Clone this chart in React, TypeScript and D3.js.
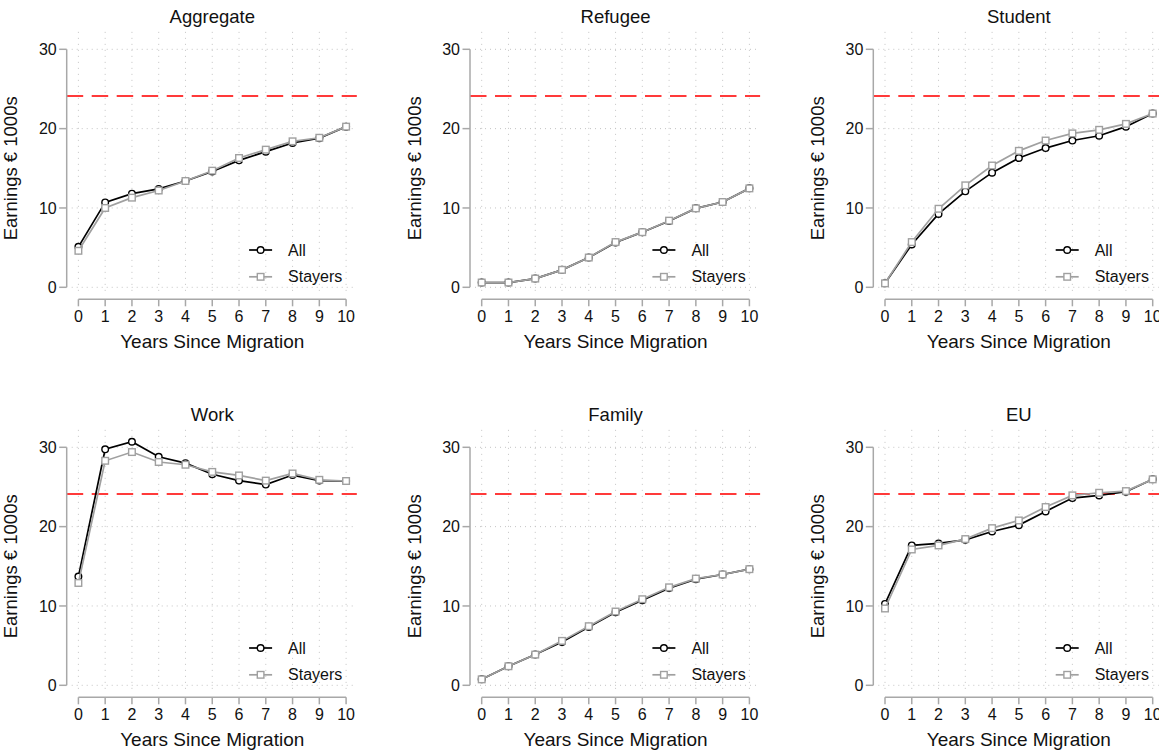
import React from "react";
import * as d3 from "d3";

const years = [0, 1, 2, 3, 4, 5, 6, 7, 8, 9, 10];
const yTicks = [0, 10, 20, 30];
const nativeMean = 24.1; // red dashed reference line

const aggregateAll = [5.1, 10.7, 11.8, 12.4, 13.4, 14.6, 16.0, 17.1, 18.2, 18.8, 20.25];
const aggregateStayers = [4.6, 10.0, 11.3, 12.2, 13.4, 14.7, 16.3, 17.35, 18.4, 18.85, 20.25];

const refugeeAll = [0.6, 0.6, 1.1, 2.2, 3.75, 5.65, 6.95, 8.35, 9.95, 10.75, 12.47];
const refugeeStayers = [0.6, 0.6, 1.1, 2.2, 3.75, 5.7, 6.95, 8.4, 9.95, 10.75, 12.47];

const studentAll = [0.5, 5.4, 9.25, 12.1, 14.45, 16.3, 17.55, 18.5, 19.1, 20.25, 21.9];
const studentStayers = [0.5, 5.7, 9.9, 12.85, 15.35, 17.2, 18.5, 19.4, 19.85, 20.6, 21.9];

const workAll = [13.7, 29.75, 30.7, 28.8, 28.0, 26.6, 25.8, 25.3, 26.5, 25.8, 25.75];
const workStayers = [12.9, 28.3, 29.4, 28.15, 27.8, 26.9, 26.45, 25.8, 26.7, 25.9, 25.75];

const familyAll = [0.75, 2.4, 3.87, 5.47, 7.36, 9.2, 10.73, 12.25, 13.38, 13.97, 14.64];
const familyStayers = [0.75, 2.4, 3.87, 5.6, 7.45, 9.3, 10.85, 12.35, 13.45, 13.97, 14.64];

const euAll = [10.26, 17.63, 17.88, 18.34, 19.39, 20.19, 21.92, 23.6, 23.94, 24.4, 25.96];
const euStayers = [9.68, 17.12, 17.63, 18.43, 19.81, 20.78, 22.47, 23.94, 24.27, 24.48, 25.96];

const titles = ["Aggregate", "Refugee", "Student", "Work", "Family", "EU"];
const allSeries = [aggregateAll, refugeeAll, studentAll, workAll, familyAll, euAll];
const stayerSeries = [aggregateStayers, refugeeStayers, studentStayers, workStayers, familyStayers, euStayers];

const FONT = "'Liberation Sans', Arial, sans-serif";
const AXIS = "#a8a8a8";
const GRID = "#c4c4c4";
const GRAY = "#a0a0a0";

function Panel({ title, all, stayers, col, row }) {
  const axisX = 66.7 + col * 403.3;
  const x0 = axisX + 11.7;
  const yTop = 49.3 + row * 398;
  const yBot = 287.3 + row * 398;

  const x = d3.scaleLinear().domain([0, 10]).range([x0, x0 + 267.7]);
  const y = d3.scaleLinear().domain([0, 30]).range([yBot, yTop]);

  const line = d3
    .line<number>()
    .x((d, i) => x(years[i]))
    .y((d) => y(d));

  const gridTop = y(32.2);
  const gridBot = y(-0.7);
  const gridLeft = x(-0.25);
  const gridRight = x(10.27);
  const axisY = yBot + 12;
  const midX = (x(0) + x(10)) / 2;

  // legend
  const legX = x(0) + 209.7;
  const legY1 = yBot - 37.3;
  const legY2 = yBot - 10.5;

  return (
    <g fontFamily={FONT}>
      {/* grid */}
      {years.map((t) => (
        <line key={"gx" + t} x1={x(t)} x2={x(t)} y1={gridTop} y2={gridBot}
          stroke={GRID} strokeWidth={1} strokeDasharray="1,5" />
      ))}
      {yTicks.map((t) => (
        <line key={"gy" + t} x1={gridLeft} x2={gridRight} y1={y(t)} y2={y(t)}
          stroke={GRID} strokeWidth={1} strokeDasharray="1,4" />
      ))}

      <line x1={axisX} x2={x(10.4)} y1={y(nativeMean)} y2={y(nativeMean)}
        stroke="#ff3a3a" strokeWidth={2} strokeDasharray="16.5,8.5" />

      {/* y axis */}
      <line x1={axisX} x2={axisX} y1={y(0)} y2={y(30)} stroke={AXIS} strokeWidth={1.5} />
      {yTicks.map((t) => (
        <g key={"yt" + t}>
          <line x1={axisX - 7.5} x2={axisX} y1={y(t)} y2={y(t)} stroke={AXIS} strokeWidth={1.5} />
          <text x={axisX - 10} y={y(t) + 5.6} textAnchor="end" fontSize={16} fill="#111">{t}</text>
        </g>
      ))}
      <text transform={`translate(${axisX - 49.5},${(yTop + yBot) / 2}) rotate(-90)`}
        textAnchor="middle" fontSize={18.5} fill="#111">Earnings € 1000s</text>

      {/* x axis */}
      <line x1={x(0)} x2={x(10)} y1={axisY} y2={axisY} stroke={AXIS} strokeWidth={1.5} />
      {years.map((t) => (
        <g key={"xt" + t}>
          <line x1={x(t)} x2={x(t)} y1={axisY} y2={axisY + 7} stroke={AXIS} strokeWidth={1.5} />
          <text x={x(t)} y={yBot + 34.4} textAnchor="middle" fontSize={16} fill="#111">{t}</text>
        </g>
      ))}
      <text x={midX} y={yBot + 61} textAnchor="middle" fontSize={19} fill="#111">Years Since Migration</text>

      <text x={midX} y={yTop - 26.6} textAnchor="middle" fontSize={18.5} fill="#111">{title}</text>

      {/* series */}
      <path d={line(all)} fill="none" stroke="#000" strokeWidth={1.7} />
      {all.map((v, i) => (
        <circle key={"a" + i} cx={x(years[i])} cy={y(v)} r={3.3} fill="#fff" stroke="#000" strokeWidth={1.4} />
      ))}
      <path d={line(stayers)} fill="none" stroke={GRAY} strokeWidth={1.7} />
      {stayers.map((v, i) => (
        <rect key={"s" + i} x={x(years[i]) - 3.3} y={y(v) - 3.3} width={6.6} height={6.6}
          fill="#fff" stroke={GRAY} strokeWidth={1.4} />
      ))}

      <line x1={legX - 39} x2={legX - 16} y1={legY1} y2={legY1} stroke="#000" strokeWidth={1.7} />
      <circle cx={legX - 27.5} cy={legY1} r={3.3} fill="#fff" stroke="#000" strokeWidth={1.4} />
      <text x={legX} y={legY1 + 5.5} fontSize={16} fill="#111">All</text>
      <line x1={legX - 39} x2={legX - 16} y1={legY2} y2={legY2} stroke={GRAY} strokeWidth={1.7} />
      <rect x={legX - 30.8} y={legY2 - 3.3} width={6.6} height={6.6} fill="#fff" stroke={GRAY} strokeWidth={1.4} />
      <text x={legX} y={legY2 + 5.5} fontSize={16} fill="#111">Stayers</text>
    </g>
  );
}

export default function App() {
  return (
    <svg width={1159} height={751} style={{ position: "fixed", left: 0, top: 0, background: "#fff" }}>
      <rect width={1159} height={751} fill="#fff" />
      {titles.map((t, i) => (
        <Panel key={t} title={t} all={allSeries[i]} stayers={stayerSeries[i]} col={i % 3} row={Math.floor(i / 3)} />
      ))}
    </svg>
  );
}
